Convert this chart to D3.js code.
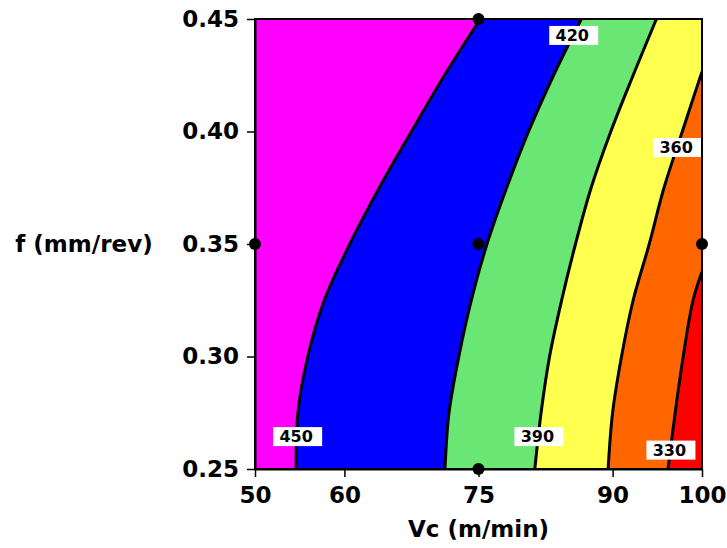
<!DOCTYPE html>
<html>
<head>
<meta charset="utf-8">
<script src="https://cdn.jsdelivr.net/npm/d3@7"></script>
<style>
  html, body { margin: 0; padding: 0; background: #fff; }
  svg { display: block; }
  text { font-family: "DejaVu Sans", Verdana, sans-serif; font-weight: bold; }
</style>
</head>
<body>
<svg id="chart" width="727" height="548"></svg>
<script>
// Axis ticks
const vcTicks = [50, 60, 75, 90, 100];
const fTicks = [0.25, 0.30, 0.35, 0.40, 0.45];

// Contour levels and the band colours (highest band first)
const levels = [450, 420, 390, 360, 330];
const bandColors = ["#ff00ff", "#0000ff", "#69e673", "#ffff4f", "#ff6600", "#ff0000"];

// Contour lines: feed rate f and the cutting speed Vc where the level is crossed
const f450 = [0.45, 0.425, 0.40, 0.375, 0.35, 0.325, 0.30, 0.275, 0.25];
const vc450 = [75.2, 71.2, 67.5, 63.9, 60.6, 57.75, 55.9, 54.8, 54.6];
const f420 = [0.45, 0.425, 0.40, 0.375, 0.35, 0.325, 0.30, 0.275, 0.25];
const vc420 = [86.5, 83.4, 80.6, 78.15, 75.95, 74.2, 72.8, 71.7, 71.25];
const f390 = [0.45, 0.425, 0.40, 0.375, 0.35, 0.325, 0.30, 0.275, 0.25];
const vc390 = [94.9, 92.3, 89.8, 87.6, 85.85, 84.3, 82.95, 82.0, 81.3];
const f360 = [0.4266, 0.40, 0.375, 0.35, 0.325, 0.30, 0.275, 0.25];
const vc360 = [100, 97.8, 95.75, 94.1, 92.3, 91.0, 90.0, 89.5];
const f330 = [0.3377, 0.325, 0.30, 0.275, 0.25];
const vc330 = [100, 99.0, 97.9, 97.0, 96.2];

// Feed rate at which each level's value label sits
const labelF = [0.2644, 0.4427, 0.2644, 0.3929, 0.2584];

// Experimental design points
const designVc = [50, 75, 75, 75, 100];
const designF = [0.35, 0.45, 0.35, 0.25, 0.35];

const contourF = [f450, f420, f390, f360, f330];
const contourVc = [vc450, vc420, vc390, vc360, vc330];

const svg = d3.select("#chart");
const x = d3.scaleLinear().domain([50, 100]).range([255, 702]);
const y = d3.scaleLinear().domain([0.25, 0.45]).range([469, 19]);

svg.append("defs").append("clipPath").attr("id", "plot-clip")
  .append("rect")
  .attr("x", x(50)).attr("y", y(0.45))
  .attr("width", x(100) - x(50)).attr("height", y(0.25) - y(0.45));

const plot = svg.append("g").attr("clip-path", "url(#plot-clip)");

// Lowest band covers the whole field
plot.append("rect")
  .attr("x", x(50)).attr("y", y(0.45))
  .attr("width", x(100) - x(50)).attr("height", y(0.25) - y(0.45))
  .attr("fill", bandColors[bandColors.length - 1]);

const curve = d3.curveCatmullRom.alpha(0.5);

function linePoints(i) {
  return contourF[i].map((f, k) => ({ f: f, vc: contourVc[i][k] }));
}

// Region above each level lies to the left of its line; paint from lowest level up
const fillArea = d3.area()
  .curve(curve)
  .y(d => y(d.f))
  .x0(x(50))
  .x1(d => x(d.vc));

for (let i = levels.length - 1; i >= 0; i--) {
  let pts = linePoints(i);
  if (pts[0].f < 0.45) pts = [{ f: 0.45, vc: 100 }].concat(pts);
  plot.append("path")
    .attr("d", fillArea(pts))
    .attr("fill", bandColors[i]);
}

// Contour lines
const contourLine = d3.line().curve(curve).x(d => x(d.vc)).y(d => y(d.f));
levels.forEach((lv, i) => {
  plot.append("path")
    .attr("d", contourLine(linePoints(i)))
    .attr("fill", "none")
    .attr("stroke", "#000")
    .attr("stroke-width", 3)
    .attr("stroke-linejoin", "round");
});

// Vc on a contour line at a given f (linear between stored points)
function vcAt(i, f) {
  const fs = contourF[i], vs = contourVc[i];
  for (let k = 0; k < fs.length - 1; k++) {
    if (f <= fs[k] && f >= fs[k + 1]) {
      const t = (f - fs[k]) / (fs[k + 1] - fs[k]);
      return vs[k] + t * (vs[k + 1] - vs[k]);
    }
  }
  return vs[vs.length - 1];
}

// Level labels on white boxes
const labels = svg.append("g");
levels.forEach((lv, i) => {
  const cx = x(vcAt(i, labelF[i]));
  const cy = y(labelF[i]);
  labels.append("rect")
    .attr("x", cx - 24).attr("y", cy - 9.5)
    .attr("width", 49).attr("height", 19)
    .attr("fill", "#fff");
  labels.append("text")
    .attr("x", cx - 1).attr("y", cy)
    .attr("dy", "0.36em")
    .attr("text-anchor", "middle")
    .attr("font-size", 16)
    .attr("fill", "#000")
    .text(lv);
});

// Frame
svg.append("rect")
  .attr("x", x(50)).attr("y", y(0.45))
  .attr("width", x(100) - x(50)).attr("height", y(0.25) - y(0.45))
  .attr("fill", "none").attr("stroke", "#000").attr("stroke-width", 2);

// Axes
const xAxis = d3.axisBottom(x).tickValues(vcTicks).tickSize(8).tickSizeOuter(0)
  .tickPadding(10).tickFormat(d3.format("d"));
const yAxis = d3.axisLeft(y).tickValues(fTicks).tickSize(8).tickSizeOuter(0)
  .tickPadding(8).tickFormat(d3.format(".2f"));

const gx = svg.append("g").attr("transform", `translate(0,${y(0.25)})`).call(xAxis);
const gy = svg.append("g").attr("transform", `translate(${x(50)},0)`).call(yAxis);
[gx, gy].forEach(g => {
  g.attr("font-family", null);
  g.selectAll("text").attr("font-size", 23).attr("fill", "#000");
  g.selectAll("line").attr("stroke", "#000").attr("stroke-width", 1.5);
  g.select(".domain").attr("stroke", "#000").attr("stroke-width", 2);
});

// Axis titles
svg.append("text")
  .attr("x", x(75)).attr("y", 537)
  .attr("text-anchor", "middle")
  .attr("font-size", 23)
  .text("Vc (m/min)");
svg.append("text")
  .attr("x", 84).attr("y", y(0.35))
  .attr("dy", "0.36em")
  .attr("text-anchor", "middle")
  .attr("font-size", 23)
  .text("f (mm/rev)");

// Design points
svg.append("g").selectAll("circle")
  .data(designVc.map((v, k) => ({ vc: v, f: designF[k] })))
  .join("circle")
  .attr("cx", d => x(d.vc))
  .attr("cy", d => y(d.f))
  .attr("r", 6)
  .attr("fill", "#000");
</script>
</body>
</html>
